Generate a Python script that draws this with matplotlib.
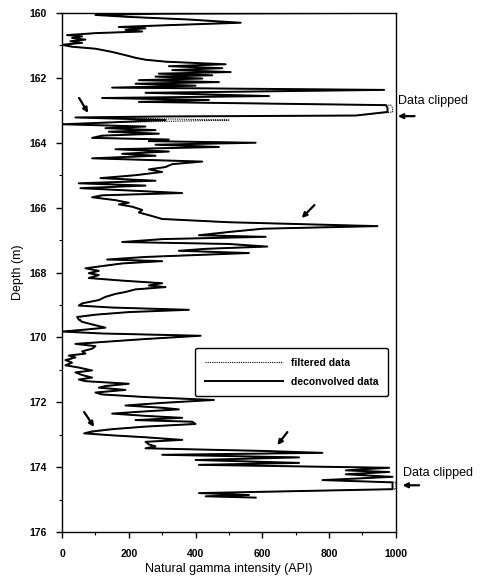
import matplotlib
matplotlib.use('Agg')
import matplotlib.pyplot as plt
import numpy as np

plt.rcParams['font.family'] = ['Liberation Sans', 'DejaVu Sans']

# depth (m) of each digitised sample, top to bottom
depth = [
    160.00, 160.02, 160.06, 160.12, 160.20, 160.30, 160.37, 160.43, 160.47, 160.52,
    160.57, 160.62, 160.68, 160.72, 160.77, 160.82, 160.87, 160.92, 160.98, 161.04,
    161.10, 161.20, 161.30, 161.38, 161.44, 161.50, 161.58, 161.64, 161.70, 161.76,
    161.82, 161.87, 161.92, 161.96, 162.02, 162.07, 162.13, 162.18, 162.24, 162.30,
    162.37, 162.46, 162.56, 162.62, 162.68, 162.74, 162.84, 162.92, 163.05, 163.16,
    163.19, 163.22, 163.30, 163.37, 163.43, 163.50, 163.55, 163.61, 163.66, 163.72,
    163.78, 163.85, 163.90, 163.95, 164.00, 164.06, 164.13, 164.20, 164.27, 164.34,
    164.40, 164.48, 164.58, 164.66, 164.75, 164.82, 164.90, 165.00, 165.09, 165.17,
    165.25, 165.32, 165.40, 165.47, 165.55, 165.62, 165.68, 165.77, 165.85, 165.90,
    165.97, 166.07, 166.15, 166.23, 166.35, 166.45, 166.57, 166.65, 166.75, 166.85,
    166.90, 166.97, 167.06, 167.12, 167.20, 167.27, 167.33, 167.40, 167.45, 167.52,
    167.60, 167.65, 167.72, 167.80, 167.87, 167.95, 168.02, 168.08, 168.17, 168.25,
    168.33, 168.40, 168.45, 168.52, 168.60, 168.66, 168.75, 168.85, 168.95, 169.02,
    169.08, 169.15, 169.22, 169.30, 169.37, 169.45, 169.52, 169.60, 169.70, 169.76,
    169.82, 169.88, 169.95, 170.05, 170.12, 170.20, 170.27, 170.35, 170.43, 170.50,
    170.56, 170.62, 170.70, 170.78, 170.86, 170.93, 171.02, 171.08, 171.16, 171.24,
    171.30, 171.35, 171.43, 171.50, 171.55, 171.62, 171.70, 171.76, 171.84, 171.93,
    172.02, 172.10, 172.17, 172.22, 172.30, 172.35, 172.42, 172.48, 172.55, 172.60,
    172.67, 172.75, 172.83, 172.90, 172.96, 173.02, 173.08, 173.16, 173.22, 173.30,
    173.36, 173.42, 173.50, 173.56, 173.62, 173.70, 173.78, 173.87, 173.93, 174.02,
    174.10, 174.15, 174.22, 174.30, 174.40, 174.47, 174.58, 174.68, 174.80, 174.86,
    174.90, 174.94,
]

# deconvolved gamma (API)
deconvolved = [
    900, 300, 100, 200, 380, 535, 330, 170, 250, 190,
    240, 100, 15, 60, 30, 70, 25, 60, 0, 30,
    100, 150, 190, 220, 250, 310, 490, 320, 480, 330,
    505, 290, 450, 280, 420, 230, 470, 220, 400, 150,
    965, 250, 620, 120, 440, 230, 970, 975, 975, 880,
    300, 40, 310, 150, 0, 250, 130, 280, 140, 290,
    120, 90, 320, 260, 580, 280, 470, 160, 320, 180,
    280, 90, 420, 330, 310, 260, 300, 220, 115, 280,
    50, 250, 55, 200, 360, 120, 90, 160, 200, 170,
    210, 240, 230, 260, 300, 500, 945, 600, 500, 410,
    610, 300, 180, 500, 615, 430, 350, 560, 430, 250,
    135, 300, 180, 120, 70, 110, 80, 110, 80, 180,
    300, 260, 310, 220, 190, 160, 130, 110, 60, 50,
    150, 380, 200, 100, 45, 50, 60, 90, 130, 70,
    0, 120, 415, 250, 150, 40, 100, 90, 60, 70,
    20, 40, 10, 30, 10, 50, 90, 40, 60, 90,
    50, 70, 200, 130, 110, 190, 100, 120, 250, 455,
    300, 190, 300, 350, 220, 150, 250, 360, 220, 390,
    400, 250, 150, 90, 66, 150, 250, 360, 250, 260,
    280, 250, 600, 780, 300, 710, 400, 710, 410, 980,
    850, 980, 850, 990, 780, 990, 990, 990, 410, 560,
    430, 580,
]

# filtered gamma (API)
filtered = [
    880, 310, 110, 200, 370, 520, 340, 180, 245, 195,
    235, 105, 25, 55, 35, 65, 30, 55, 10, 35,
    100, 150, 190, 220, 250, 310, 470, 330, 465, 340,
    490, 300, 440, 290, 410, 240, 455, 230, 390, 170,
    950, 260, 600, 135, 425, 240, 985, 990, 990, 880,
    280, 60, 500, 170, 20, 240, 140, 270, 150, 280,
    130, 100, 310, 270, 560, 290, 455, 170, 310, 190,
    275, 100, 405, 330, 305, 265, 295, 225, 125, 270,
    60, 245, 65, 200, 345, 125, 95, 160, 195, 175,
    205, 240, 230, 255, 300, 490, 920, 610, 505, 420,
    595, 310, 190, 490, 600, 435, 355, 545, 430, 255,
    145, 290, 185, 125, 80, 110, 85, 110, 85, 180,
    295, 260, 300, 220, 190, 160, 135, 110, 65, 55,
    150, 370, 205, 105, 55, 55, 60, 90, 125, 75,
    10, 120, 400, 255, 155, 50, 100, 90, 65, 70,
    25, 40, 15, 30, 15, 50, 85, 45, 60, 85,
    55, 70, 195, 135, 115, 185, 105, 125, 250, 440,
    300, 195, 295, 340, 225, 160, 250, 350, 225, 380,
    390, 255, 155, 100, 80, 150, 250, 350, 255, 260,
    275, 260, 590, 760, 310, 695, 410, 690, 420, 960,
    855, 965, 860, 980, 800, 1000, 1000, 1000, 430, 550,
    440, 575,
]

# arrows marking features: (tail value, tail depth, head value, head depth)
feature_arrows = [
    (51, 162.62, 78, 163.08),
    (756, 165.92, 718, 166.32),
    (66, 172.30, 96, 172.76),
    (675, 172.92, 645, 173.32),
]

# "Data clipped" notes: (text value, text depth, arrow depth)
clip_notes = [
    (1006, 162.72, 163.18),
    (1020, 174.18, 174.56),
]

fig = plt.figure(figsize=(4.81, 5.76), dpi=100)
ax = fig.add_axes([0.129, 0.0764, 0.694, 0.901])

ax.plot(filtered, depth, color='k', linestyle=(0, (1, 1)), linewidth=0.8,
        label='filtered data')
ax.plot(deconvolved, depth, color='k', linestyle='-', linewidth=1.4,
        label='deconvolved data')

ax.set_xlim(0, 1000)
ax.set_ylim(176, 160)
ax.set_xticks(np.arange(0, 1001, 200))
ax.set_xticks(np.arange(0, 1001, 100), minor=True)
ax.set_yticks(np.arange(160, 177, 2))
ax.set_yticks(np.arange(160, 177, 1), minor=True)
ax.tick_params(axis='both', which='major', labelsize=7.5, length=4, width=1,
               direction='out')
ax.tick_params(axis='x', which='major', pad=8)
ax.tick_params(axis='y', which='major', pad=7)
ax.tick_params(axis='both', which='minor', length=2.5, width=0.8,
               direction='out')
for lab in ax.get_xticklabels() + ax.get_yticklabels():
    lab.set_fontweight('bold')
for sp in ax.spines.values():
    sp.set_linewidth(1.0)

ax.set_xlabel('Natural gamma intensity (API)', fontsize=9, labelpad=3)
ax.set_ylabel('Depth (m)', fontsize=9, labelpad=4)

for x0, y0, x1, y1 in feature_arrows:
    ax.annotate('', xy=(x1, y1), xytext=(x0, y0),
                arrowprops=dict(arrowstyle='-|>', color='k', lw=1.6,
                                mutation_scale=7, shrinkA=0, shrinkB=0))

for xt, yt, ya in clip_notes:
    ax.annotate('Data clipped', xy=(xt, yt), xycoords='data', fontsize=9,
                ha='left', va='center', annotation_clip=False)
    ax.annotate('', xy=(xt, ya), xytext=(xt + 50, ya), xycoords='data',
                annotation_clip=False,
                arrowprops=dict(arrowstyle='-|>', color='k', lw=1.6,
                                mutation_scale=7, shrinkA=0, shrinkB=0))

leg = ax.legend(loc='upper left', bbox_to_anchor=(190 / 481, 1 - 343 / 576),
                bbox_transform=fig.transFigure, fontsize=7.5,
                handlelength=7.5, handletextpad=0.8, borderpad=0.9,
                labelspacing=0.9, fancybox=True, framealpha=1,
                edgecolor='k')
leg.get_frame().set_linewidth(1.0)
for t in leg.get_texts():
    t.set_fontweight('bold')

plt.savefig('out.png', dpi=100)
